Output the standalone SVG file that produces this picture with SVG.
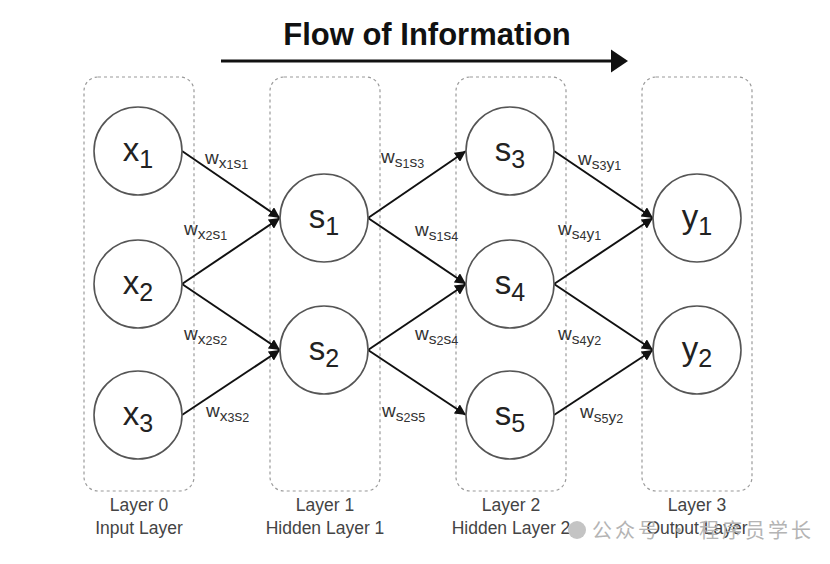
<svg xmlns="http://www.w3.org/2000/svg" width="830" height="564" viewBox="0 0 830 564">
<style>
.layer{fill:none;stroke:#9a9a9a;stroke-width:1.2;stroke-dasharray:3 3}
.node{fill:#fff;stroke:#555;stroke-width:1.6}
.nl{font-family:"Liberation Sans",Arial,sans-serif;font-size:33px;fill:#222;text-anchor:middle}
.ns{font-size:25px}
.w{font-family:"Liberation Sans",Arial,sans-serif;font-size:19px;fill:#333}
.s{font-size:15.5px}
.ss{font-size:12.5px}
.edge{stroke:#111;stroke-width:2;fill:none;marker-end:url(#ah)}
.lab{font-family:"Liberation Sans",Arial,sans-serif;font-size:17.5px;fill:#444;text-anchor:middle}
.title{font-family:"Liberation Sans",Arial,sans-serif;font-size:31px;font-weight:bold;fill:#111;text-anchor:middle}
.wm{font-family:"Noto Sans CJK SC","Liberation Sans",sans-serif;font-size:20px;fill:#b4b4b4;letter-spacing:3px}
</style>
<defs>
<marker id="ah" viewBox="0 0 10 10" refX="10" refY="5" markerWidth="5.5" markerHeight="5.5" orient="auto" markerUnits="strokeWidth">
<path d="M0,0 L10,5 L0,10 z" fill="#111"/>
</marker>
</defs>
<rect width="830" height="564" fill="#fff"/>

<g id="title">
<text class="title" x="427" y="45">Flow of Information</text>
<line x1="221" y1="61" x2="612" y2="61" stroke="#111" stroke-width="3"/>
<path d="M611,49.5 L628,61 L611,72.5 z" fill="#111"/>
</g>

<g id="layers">
<rect class="layer" x="84" y="77" width="110" height="414" rx="14"/>
<rect class="layer" x="270" y="77" width="110" height="414" rx="14"/>
<rect class="layer" x="456" y="77" width="110" height="414" rx="14"/>
<rect class="layer" x="642" y="77" width="110" height="414" rx="14"/>
<text class="lab" x="139" y="511">Layer 0</text>
<text class="lab" x="139" y="534">Input Layer</text>
<text class="lab" x="325" y="511">Layer 1</text>
<text class="lab" x="325" y="534">Hidden Layer 1</text>
<text class="lab" x="511" y="511">Layer 2</text>
<text class="lab" x="511" y="534">Hidden Layer 2</text>
<text class="lab" x="697" y="511">Layer 3</text>
<text class="lab" x="697" y="534">Output Layer</text>
</g>

<g id="connectors">
<line class="edge" x1="182" y1="151" x2="280" y2="218"/>
<line class="edge" x1="182" y1="284" x2="280" y2="218"/>
<line class="edge" x1="182" y1="284" x2="280" y2="350"/>
<line class="edge" x1="182" y1="415" x2="280" y2="350"/>
<line class="edge" x1="368" y1="218" x2="466" y2="151"/>
<line class="edge" x1="368" y1="218" x2="466" y2="284"/>
<line class="edge" x1="368" y1="350" x2="466" y2="284"/>
<line class="edge" x1="368" y1="350" x2="466" y2="415"/>
<line class="edge" x1="554" y1="151" x2="653" y2="218"/>
<line class="edge" x1="554" y1="284" x2="653" y2="218"/>
<line class="edge" x1="554" y1="284" x2="653" y2="350"/>
<line class="edge" x1="554" y1="415" x2="653" y2="350"/>
<g id="edge-labels">
<text class="w" x="205" y="164">w<tspan class="s" dy="4">x</tspan><tspan class="ss" dy="1">1</tspan><tspan class="s" dy="-1">s</tspan><tspan class="ss" dy="1">1</tspan></text>
<text class="w" x="184" y="235">w<tspan class="s" dy="4">x</tspan><tspan class="ss" dy="1">2</tspan><tspan class="s" dy="-1">s</tspan><tspan class="ss" dy="1">1</tspan></text>
<text class="w" x="184" y="340">w<tspan class="s" dy="4">x</tspan><tspan class="ss" dy="1">2</tspan><tspan class="s" dy="-1">s</tspan><tspan class="ss" dy="1">2</tspan></text>
<text class="w" x="206" y="417">w<tspan class="s" dy="4">x</tspan><tspan class="ss" dy="1">3</tspan><tspan class="s" dy="-1">s</tspan><tspan class="ss" dy="1">2</tspan></text>
<text class="w" x="381" y="163">w<tspan class="s" dy="4">s</tspan><tspan class="ss" dy="1">1</tspan><tspan class="s" dy="-1">s</tspan><tspan class="ss" dy="1">3</tspan></text>
<text class="w" x="415" y="236">w<tspan class="s" dy="4">s</tspan><tspan class="ss" dy="1">1</tspan><tspan class="s" dy="-1">s</tspan><tspan class="ss" dy="1">4</tspan></text>
<text class="w" x="415" y="340">w<tspan class="s" dy="4">s</tspan><tspan class="ss" dy="1">2</tspan><tspan class="s" dy="-1">s</tspan><tspan class="ss" dy="1">4</tspan></text>
<text class="w" x="382" y="417">w<tspan class="s" dy="4">s</tspan><tspan class="ss" dy="1">2</tspan><tspan class="s" dy="-1">s</tspan><tspan class="ss" dy="1">5</tspan></text>
<text class="w" x="578" y="165">w<tspan class="s" dy="4">s</tspan><tspan class="ss" dy="1">3</tspan><tspan class="s" dy="-1">y</tspan><tspan class="ss" dy="1">1</tspan></text>
<text class="w" x="558" y="235">w<tspan class="s" dy="4">s</tspan><tspan class="ss" dy="1">4</tspan><tspan class="s" dy="-1">y</tspan><tspan class="ss" dy="1">1</tspan></text>
<text class="w" x="558" y="340">w<tspan class="s" dy="4">s</tspan><tspan class="ss" dy="1">4</tspan><tspan class="s" dy="-1">y</tspan><tspan class="ss" dy="1">2</tspan></text>
<text class="w" x="580" y="418">w<tspan class="s" dy="4">s</tspan><tspan class="ss" dy="1">5</tspan><tspan class="s" dy="-1">y</tspan><tspan class="ss" dy="1">2</tspan></text>
</g>
</g>

<g id="x1"><circle class="node" cx="138" cy="151" r="44"/><text class="nl" x="138" y="161">x<tspan class="ns" dy="7">1</tspan></text></g>
<g id="x2"><circle class="node" cx="138" cy="284" r="44"/><text class="nl" x="138" y="294">x<tspan class="ns" dy="7">2</tspan></text></g>
<g id="x3"><circle class="node" cx="138" cy="415" r="44"/><text class="nl" x="138" y="425">x<tspan class="ns" dy="7">3</tspan></text></g>
<g id="s1"><circle class="node" cx="324" cy="218" r="44"/><text class="nl" x="324" y="228">s<tspan class="ns" dy="7">1</tspan></text></g>
<g id="s2"><circle class="node" cx="324" cy="350" r="44"/><text class="nl" x="324" y="360">s<tspan class="ns" dy="7">2</tspan></text></g>
<g id="s3"><circle class="node" cx="510" cy="151" r="44"/><text class="nl" x="510" y="161">s<tspan class="ns" dy="7">3</tspan></text></g>
<g id="s4"><circle class="node" cx="510" cy="284" r="44"/><text class="nl" x="510" y="294">s<tspan class="ns" dy="7">4</tspan></text></g>
<g id="s5"><circle class="node" cx="510" cy="415" r="44"/><text class="nl" x="510" y="425">s<tspan class="ns" dy="7">5</tspan></text></g>
<g id="y1"><circle class="node" cx="697" cy="218" r="44"/><text class="nl" x="697" y="228">y<tspan class="ns" dy="7">1</tspan></text></g>
<g id="y2"><circle class="node" cx="697" cy="350" r="44"/><text class="nl" x="697" y="360">y<tspan class="ns" dy="7">2</tspan></text></g>

<g id="watermark">
<circle cx="577" cy="530" r="9" fill="#c4c4c4"/>
<text class="wm" x="592" y="538">公众号 · 程序员学长</text>
</g>
</svg>
